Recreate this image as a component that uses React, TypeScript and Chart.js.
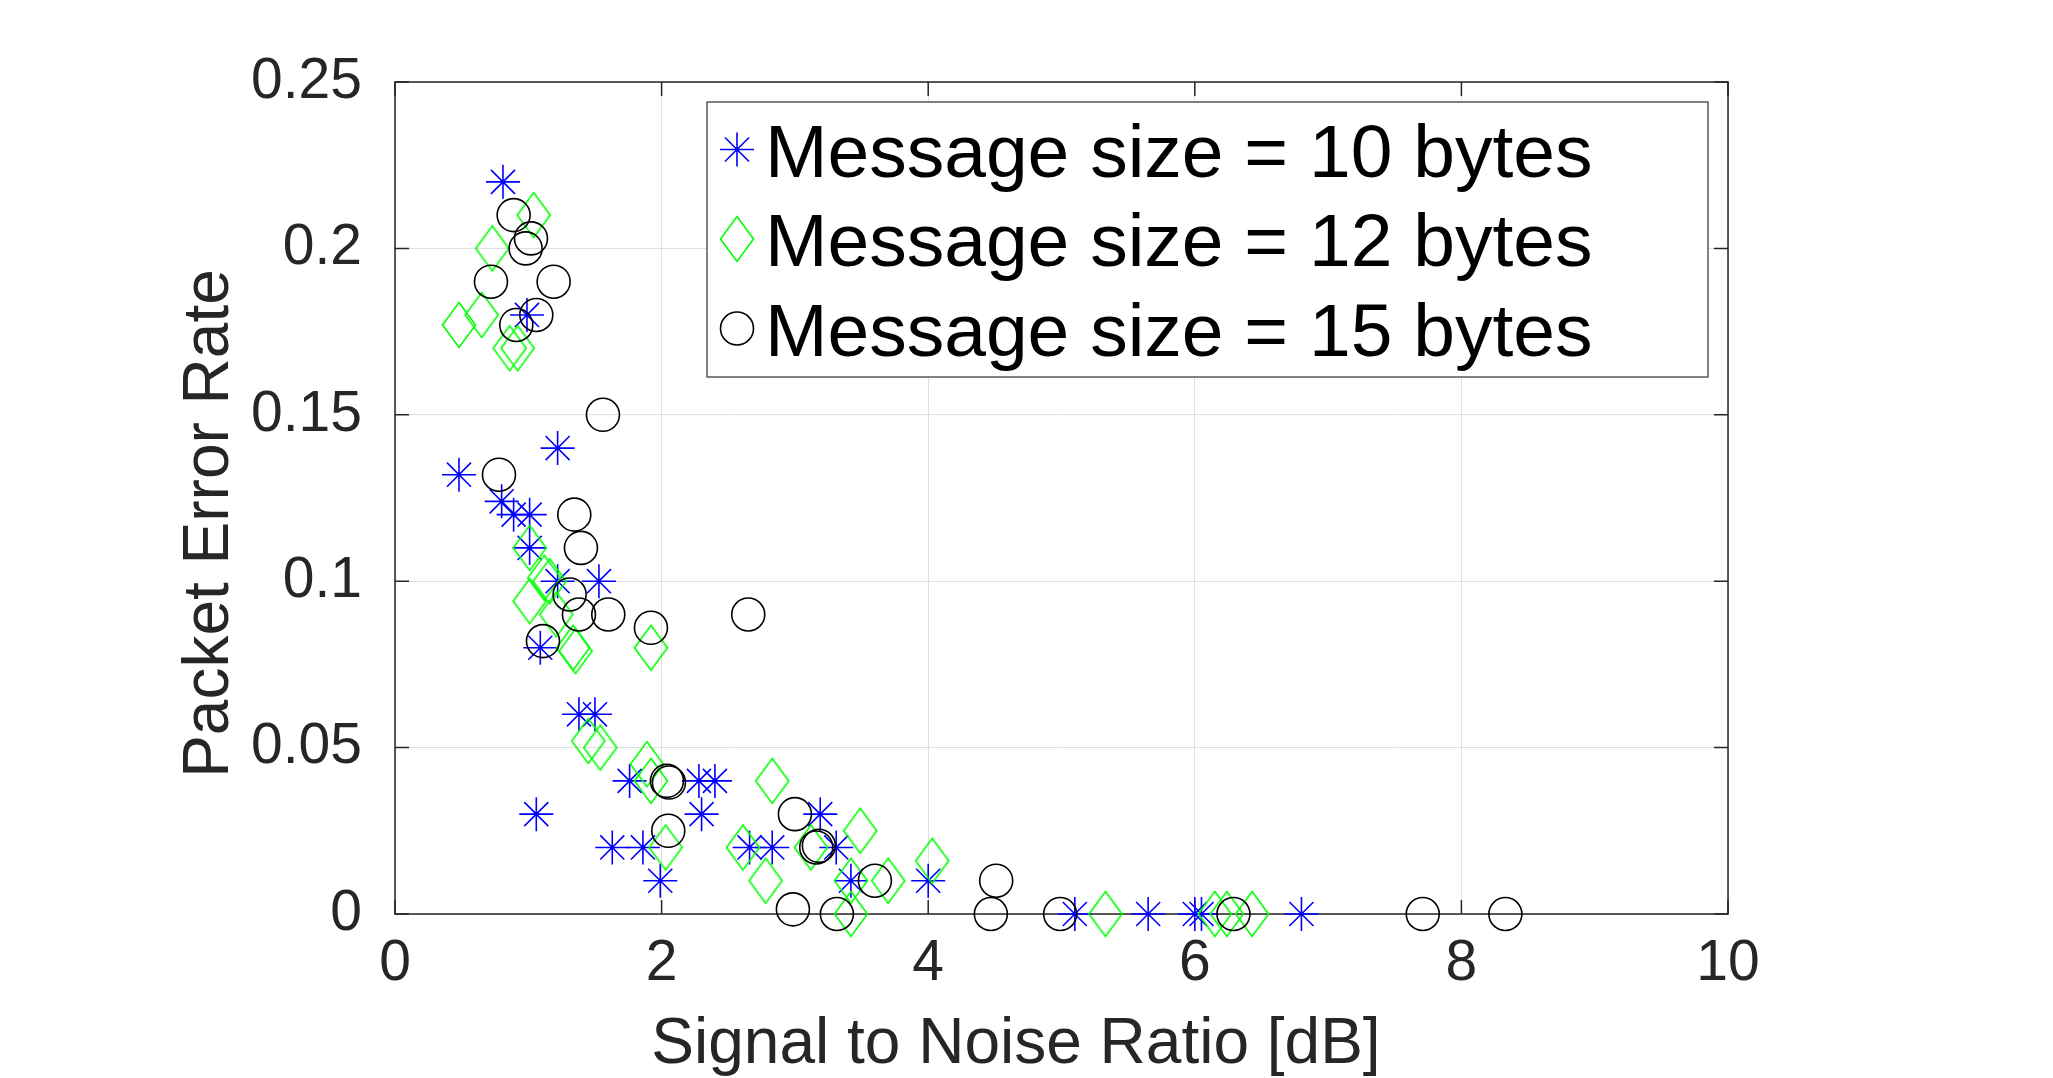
import React, { useEffect, useRef } from 'react';
import { Chart, registerables } from 'chart.js';

Chart.register(...registerables);

// Axis tick labels
const xTickLabels = ['0', '2', '4', '6', '8', '10'];
const yTickLabels = ['0', '0.05', '0.1', '0.15', '0.2', '0.25'];
const xTickValues = xTickLabels.map(Number);
const yTickValues = yTickLabels.map(Number);

const xTitle = 'Signal to Noise Ratio [dB]';
const yTitle = 'Packet Error Rate';
const seriesNames = ['Message size = 10 bytes', 'Message size = 12 bytes', 'Message size = 15 bytes'];

// Message size = 10 bytes
const snr10 = [0.81, 0.99, 1.22, 0.48, 0.80, 0.89, 1.01, 1.01, 1.22, 1.53, 1.09, 1.38, 1.50, 1.06, 1.76, 1.63,
  1.86, 1.99, 2.28, 2.40, 2.30, 2.66, 2.83, 3.19, 3.31, 3.42, 4.00, 5.10, 5.65, 6.00, 6.05, 6.80];
const per10 = [0.22, 0.18, 0.14, 0.132, 0.124, 0.12, 0.12, 0.11, 0.10, 0.10, 0.08, 0.06, 0.06, 0.03, 0.04, 0.02,
  0.02, 0.01, 0.04, 0.04, 0.03, 0.02, 0.02, 0.03, 0.02, 0.01, 0.01, 0, 0, 0, 0, 0];

// Message size = 12 bytes
const snr12 = [1.04, 0.73, 0.65, 0.48, 0.86, 0.92, 1.01, 1.12, 1.16, 1.01, 1.21, 1.92, 1.335, 1.355, 1.45, 1.54,
  1.89, 1.92, 2.03, 2.61, 2.83, 2.78, 3.12, 3.49, 3.42, 3.70, 3.42, 4.03, 5.33, 6.15, 6.24, 6.43];
const per12 = [0.21, 0.20, 0.18, 0.177, 0.17, 0.17, 0.11, 0.101, 0.10, 0.094, 0.09, 0.08, 0.08, 0.079, 0.052, 0.05,
  0.045, 0.04, 0.02, 0.02, 0.04, 0.01, 0.02, 0.025, 0.01, 0.01, 0, 0.016, 0, 0, 0, 0];

// Message size = 15 bytes
const snr15 = [0.89, 1.02, 0.98, 0.72, 1.19, 1.06, 0.91, 1.56, 0.78, 1.345, 1.395, 1.31, 1.38, 1.60, 1.92, 2.65,
  1.11, 2.04, 2.055, 2.05, 3.00, 3.16, 3.18, 2.985, 3.315, 3.60, 4.51, 4.47, 4.99, 6.29, 7.71, 8.33];
const per15 = [0.21, 0.203, 0.20, 0.19, 0.19, 0.18, 0.177, 0.15, 0.132, 0.12, 0.11, 0.096, 0.09, 0.09, 0.086, 0.09,
  0.082, 0.04, 0.0395, 0.025, 0.03, 0.02, 0.0205, 0.0014, 0, 0.01, 0.01, 0, 0, 0, 0, 0];

const FONT = "'Liberation Sans', Arial, Helvetica, sans-serif";
const AXIS_COLOR = '#262626';
const BLUE = '#0000ff';
const GREEN = '#00ff00';
const BLACK = '#000000';
const MARKER_R = 17;
const CIRCLE_R = 16.5;
const LINE_W = 1.6;
const TICK_LEN = 14;

const W = 2053;
const H = 1078;

const toPoints = (xs: number[], ys: number[]) => xs.map((x, i) => ({ x, y: ys[i] }));

// Tall diamond marker glyph
function makeDiamond(): HTMLCanvasElement {
  const c = document.createElement('canvas');
  const hw = 16.5;
  const hh = 22.5;
  c.width = 38;
  c.height = 50;
  const g = c.getContext('2d')!;
  const cx = c.width / 2;
  const cy = c.height / 2;
  g.strokeStyle = GREEN;
  g.lineWidth = LINE_W;
  g.lineJoin = 'miter';
  g.beginPath();
  g.moveTo(cx, cy - hh);
  g.lineTo(cx + hw, cy);
  g.lineTo(cx, cy + hh);
  g.lineTo(cx - hw, cy);
  g.closePath();
  g.stroke();
  return c;
}

function drawStar(ctx: CanvasRenderingContext2D, x: number, y: number, r: number) {
  ctx.save();
  ctx.strokeStyle = BLUE;
  ctx.lineWidth = LINE_W;
  ctx.beginPath();
  for (let k = 0; k < 4; k++) {
    const a = (k * Math.PI) / 4;
    ctx.moveTo(x - Math.cos(a) * r, y - Math.sin(a) * r);
    ctx.lineTo(x + Math.cos(a) * r, y + Math.sin(a) * r);
  }
  ctx.stroke();
  ctx.restore();
}

export default function App() {
  const canvasRef = useRef<HTMLCanvasElement | null>(null);

  useEffect(() => {
    const canvas = canvasRef.current;
    if (!canvas) return;
    const diamond = makeDiamond();

    const framePlugin = {
      id: 'matlabFrame',
      beforeDatasetsDraw(chart: any) {
        const { ctx, chartArea: a, scales } = chart;
        ctx.save();
        ctx.strokeStyle = AXIS_COLOR;
        ctx.lineWidth = 1.5;
        ctx.strokeRect(a.left, a.top, a.right - a.left, a.bottom - a.top);
        ctx.beginPath();
        xTickValues.forEach((v) => {
          const px = scales.x.getPixelForValue(v);
          ctx.moveTo(px, a.bottom);
          ctx.lineTo(px, a.bottom - TICK_LEN);
          ctx.moveTo(px, a.top);
          ctx.lineTo(px, a.top + TICK_LEN);
        });
        yTickValues.forEach((v) => {
          const py = scales.y.getPixelForValue(v);
          ctx.moveTo(a.left, py);
          ctx.lineTo(a.left + TICK_LEN, py);
          ctx.moveTo(a.right, py);
          ctx.lineTo(a.right - TICK_LEN, py);
        });
        ctx.stroke();
        ctx.restore();
      },
      afterDraw(chart: any) {
        const { ctx } = chart;
        ctx.save();
        // axis titles
        ctx.fillStyle = AXIS_COLOR;
        ctx.font = `64px ${FONT}`;
        ctx.textAlign = 'center';
        ctx.textBaseline = 'alphabetic';
        ctx.fillText(xTitle, 1016, 1063);
        ctx.save();
        ctx.translate(228, 523.5);
        ctx.rotate(-Math.PI / 2);
        ctx.fillText(yTitle, 0, 0);
        ctx.restore();

        // legend box
        const bx = 707, by = 102, bw = 1001, bh = 275;
        ctx.fillStyle = '#ffffff';
        ctx.fillRect(bx, by, bw, bh);
        ctx.strokeStyle = '#404040';
        ctx.lineWidth = 1.3;
        ctx.strokeRect(bx, by, bw, bh);

        ctx.font = `75px ${FONT}`;
        ctx.textAlign = 'left';
        ctx.fillStyle = '#000000';
        seriesNames.forEach((name, i) => {
          const cy = 149.5 + i * 89.5;
          const mx = 737;
          if (i === 0) {
            drawStar(ctx, mx, cy, MARKER_R);
          } else if (i === 1) {
            ctx.drawImage(diamond, mx - diamond.width / 2, cy - diamond.height / 2);
          } else {
            ctx.strokeStyle = BLACK;
            ctx.lineWidth = LINE_W;
            ctx.beginPath();
            ctx.arc(mx, cy, CIRCLE_R, 0, Math.PI * 2);
            ctx.stroke();
          }
          ctx.fillStyle = '#000000';
          ctx.fillText(name, 765, cy + 27);
        });
        ctx.restore();
      },
    };

    const tickFont = { family: FONT, size: 57 };

    const chart = new Chart(canvas, {
      type: 'scatter',
      data: {
        datasets: [
          {
            label: seriesNames[0],
            data: toPoints(snr10, per10),
            pointStyle: 'star',
            pointRadius: MARKER_R,
            pointBorderWidth: LINE_W,
            borderColor: BLUE,
            backgroundColor: 'rgba(0,0,0,0)',
            clip: false,
            order: 2,
          },
          {
            label: seriesNames[1],
            data: toPoints(snr12, per12),
            pointStyle: diamond,
            pointRadius: 17,
            borderColor: GREEN,
            backgroundColor: 'rgba(0,0,0,0)',
            clip: false,
            order: 1,
          },
          {
            label: seriesNames[2],
            data: toPoints(snr15, per15),
            pointStyle: 'circle',
            pointRadius: CIRCLE_R,
            pointBorderWidth: LINE_W,
            borderColor: BLACK,
            backgroundColor: 'rgba(0,0,0,0)',
            clip: false,
            order: 0,
          },
        ],
      } as any,
      options: {
        responsive: false,
        animation: false,
        devicePixelRatio: 1,
        events: [],
        layout: { padding: { left: 0, top: 82, right: 325, bottom: 0 } },
        plugins: {
          legend: { display: false },
          tooltip: { enabled: false },
        },
        scales: {
          x: {
            type: 'linear',
            min: 0,
            max: 10,
            afterFit: (s: any) => {
              s.height = 164;
            },
            border: { display: false },
            grid: { color: '#dfdfdf', lineWidth: 1, drawTicks: false },
            ticks: {
              stepSize: 2,
              padding: 16,
              color: AXIS_COLOR,
              font: tickFont,
              maxRotation: 0,
              autoSkip: false,
              callback: (_v: any, i: number) => xTickLabels[i],
            },
          },
          y: {
            type: 'linear',
            min: 0,
            max: 0.25,
            afterFit: (s: any) => {
              s.width = 395;
            },
            border: { display: false },
            grid: { color: '#dfdfdf', lineWidth: 1, drawTicks: false },
            ticks: {
              stepSize: 0.05,
              padding: 33,
              color: AXIS_COLOR,
              font: tickFont,
              autoSkip: false,
              callback: (_v: any, i: number) => yTickLabels[i],
            },
          },
        },
      } as any,
      plugins: [framePlugin],
    });

    return () => chart.destroy();
  }, []);

  return (
    <div style={{ position: 'fixed', left: 0, top: 0, width: W, height: H, background: '#ffffff' }}>
      <canvas ref={canvasRef} width={W} height={H} style={{ display: 'block', width: W, height: H }} />
    </div>
  );
}
